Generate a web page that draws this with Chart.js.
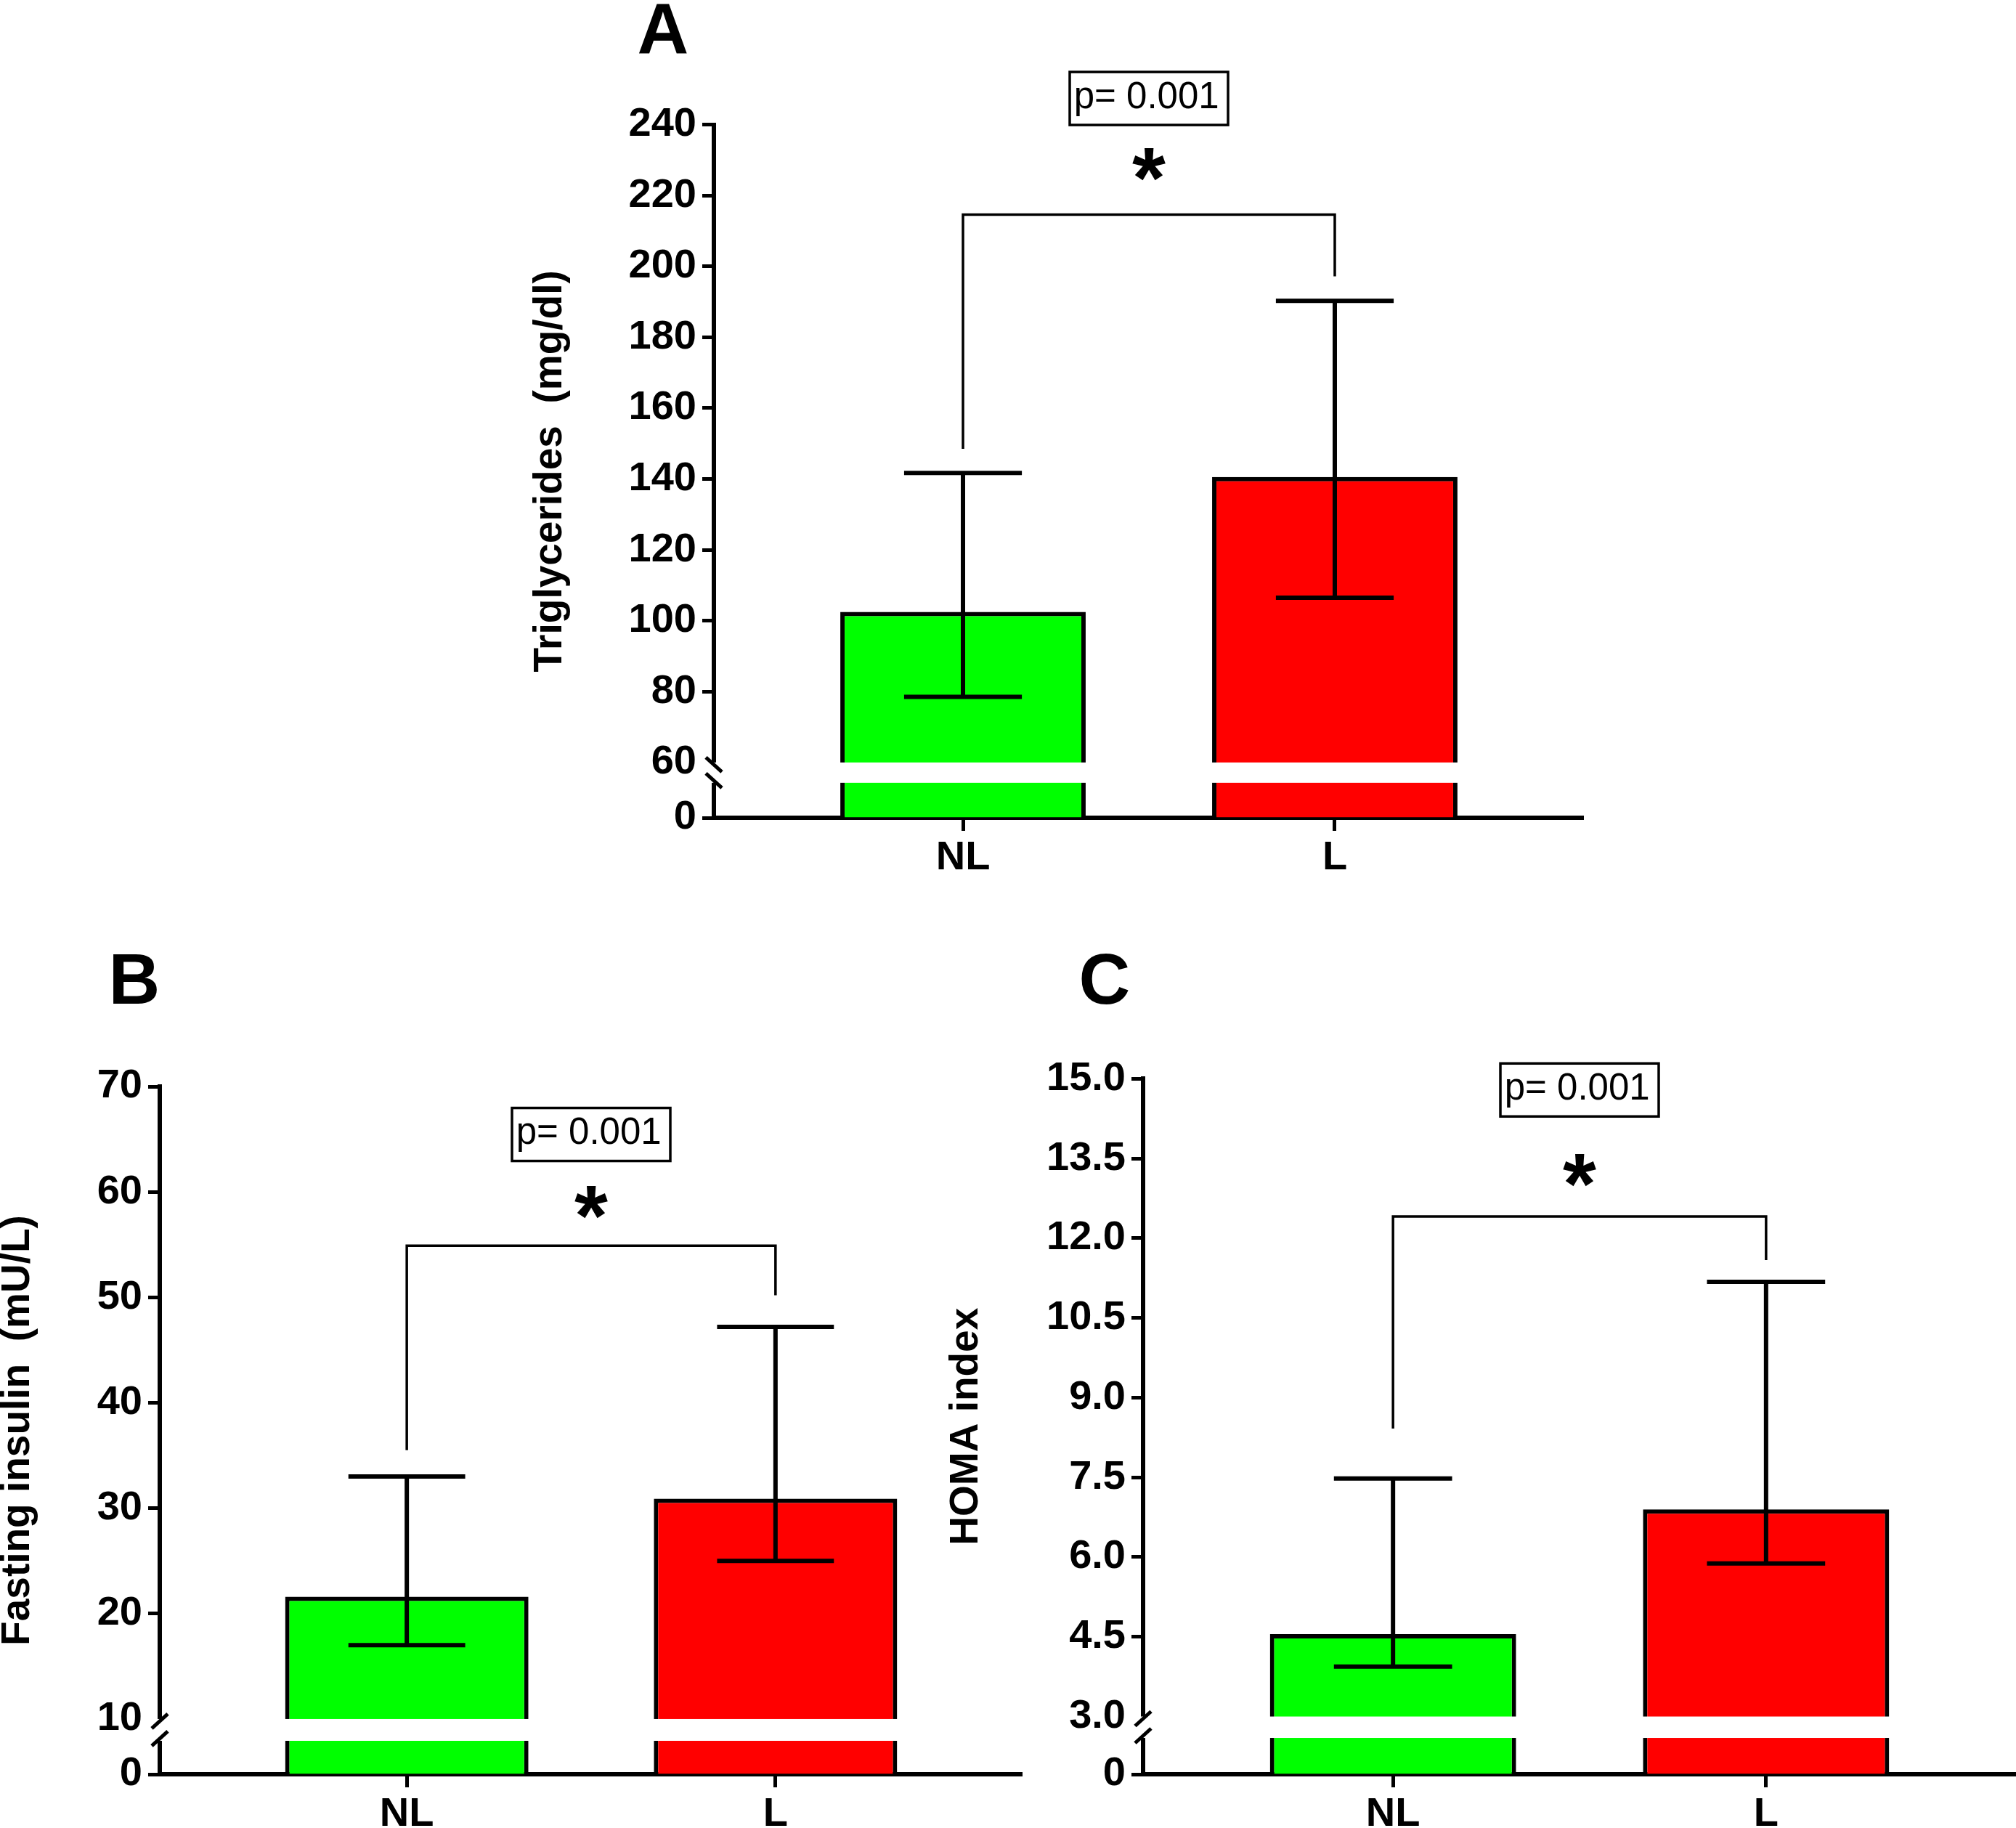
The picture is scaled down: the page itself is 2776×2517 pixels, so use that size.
<!DOCTYPE html>
<html>
<head>
<meta charset="utf-8">
<title>Triglycerides, fasting insulin and HOMA index</title>
<script src="https://cdn.jsdelivr.net/npm/chart.js@4.4.1/dist/chart.umd.min.js"></script>
<style>
  html, body { margin: 0; padding: 0; background: #fff; overflow: hidden; }
  body { width: 2776px; height: 2517px; position: relative; }
  .panel { position: absolute; }
</style>
</head>
<body>
<div class="panel" style="left:733px;top:0px;width:1448px;height:1236px"><canvas id="chartA"></canvas></div>
<div class="panel" style="left:0px;top:1250px;width:1408px;height:1303px"><canvas id="chartB"></canvas></div>
<div class="panel" style="left:1306px;top:1250px;width:1470px;height:1303px"><canvas id="chartC"></canvas></div>
<script>
// groups and colours
const groups = ['NL', 'L'];
const barColors = ['#00ff00', '#ff0000'];
const pText = 'p= 0.001';

// A - triglycerides (mg/dl)
const trigMean = [102.5, 140.6];
const trigUpper = [141.7, 190.3];
const trigLower = [78.5, 106.5];
const trigTicks = [0, 60, 80, 100, 120, 140, 160, 180, 200, 220, 240];
const trigTickLabels = ['0', '60', '80', '100', '120', '140', '160', '180', '200', '220', '240'];
const trigBracketTop = 214.6;
const trigBracketEnds = [148.5, 197.2];

// B - fasting insulin (mU/L)
const insMean = [21.6, 30.9];
const insUpper = [33.0, 47.2];
const insLower = [17.0, 25.0];
const insTicks = [0, 10, 20, 30, 40, 50, 60, 70];
const insTickLabels = ['0', '10', '20', '30', '40', '50', '60', '70'];
const insBracketTop = 54.9;
const insBracketEnds = [35.5, 50.2];

// C - HOMA index
const homaMean = [4.55, 6.9];
const homaUpper = [7.48, 11.18];
const homaLower = [3.94, 5.88];
const homaTicks = [0, 3, 4.5, 6, 7.5, 9, 10.5, 12, 13.5, 15];
const homaTickLabels = ['0', '3.0', '4.5', '6.0', '7.5', '9.0', '10.5', '12.0', '13.5', '15.0'];
const homaBracketTop = 12.41;
const homaBracketEnds = [8.42, 11.59];

const FONT = "'Liberation Sans', Arial, sans-serif";
Chart.defaults.font.family = FONT;
Chart.defaults.color = '#000';

// linear scale with a break: values below the break get a short stub at the bottom
class BrokenScale extends Chart.LinearScale {
  getPixelForValue(value) {
    const b = this.options.breakValue;
    const f = this.options.lowerPart;
    let dec;
    if (value <= b) dec = (value - this.min) / (b - this.min) * f;
    else dec = f + (value - b) / (this.max - b) * (1 - f);
    return this.getPixelForDecimal(dec);
  }
  getValueForPixel(pixel) {
    const b = this.options.breakValue;
    const f = this.options.lowerPart;
    const dec = this.getDecimalForPixel(pixel);
    if (dec <= f) return this.min + dec / f * (b - this.min);
    return b + (dec - f) / (1 - f) * (this.max - b);
  }
}
BrokenScale.id = 'broken';
BrokenScale.defaults = Chart.LinearScale.defaults;
Chart.register(BrokenScale);

// centre a string on its ink box
function inkText(ctx, text, cx, cy) {
  const m = ctx.measureText(text);
  ctx.textAlign = 'left';
  ctx.textBaseline = 'alphabetic';
  const x = cx - (m.actualBoundingBoxRight - m.actualBoundingBoxLeft) / 2 + m.actualBoundingBoxLeft;
  const y = cy + (m.actualBoundingBoxAscent - m.actualBoundingBoxDescent) / 2;
  ctx.fillText(text, x, y);
}

// error bars, axis break, bracket, p box, star and panel letter
function makeDecor(p) {
  return {
    id: 'decor',
    afterDatasetsDraw(chart) {
      const {ctx, chartArea, scales: {y}} = chart;
      const bars = chart.getDatasetMeta(0).data;
      ctx.save();

      // white gap through bars and axis
      const yb = y.getPixelForValue(y.options.breakValue);
      ctx.fillStyle = '#fff';
      ctx.fillRect(chartArea.left - 8, yb, chartArea.right - chartArea.left + 8, p.gap);

      // break marks
      ctx.strokeStyle = '#000';
      ctx.lineWidth = 5;
      ctx.lineCap = 'butt';
      const ax = chartArea.left;
      [yb + 3, yb + p.gap - 3].forEach(cy => {
        ctx.beginPath();
        ctx.moveTo(ax - 11, cy + 10 * p.slash);
        ctx.lineTo(ax + 11, cy - 10 * p.slash);
        ctx.stroke();
      });

      // error bars
      ctx.lineWidth = 6;
      bars.forEach((bar, i) => {
        const half = bar.width * 0.24;
        const yu = y.getPixelForValue(p.upper[i]);
        const yl = y.getPixelForValue(p.lower[i]);
        ctx.beginPath();
        ctx.moveTo(bar.x, yu);
        ctx.lineTo(bar.x, yl);
        ctx.moveTo(bar.x - half, yu);
        ctx.lineTo(bar.x + half, yu);
        ctx.moveTo(bar.x - half, yl);
        ctx.lineTo(bar.x + half, yl);
        ctx.stroke();
      });

      // significance bracket
      const x0 = bars[0].x, x1 = bars[1].x;
      const yt = y.getPixelForValue(p.bracketTop);
      ctx.lineWidth = 3.5;
      ctx.lineJoin = 'miter';
      ctx.beginPath();
      ctx.moveTo(x0, y.getPixelForValue(p.bracketEnds[0]));
      ctx.lineTo(x0, yt);
      ctx.lineTo(x1, yt);
      ctx.lineTo(x1, y.getPixelForValue(p.bracketEnds[1]));
      ctx.stroke();

      // p value box
      const mx = (x0 + x1) / 2;
      const by = y.getPixelForValue(p.boxAt);
      ctx.lineWidth = 3.5;
      ctx.strokeRect(mx - 109, by - 36.5, 218, 73);
      ctx.fillStyle = '#000';
      ctx.font = '51px ' + FONT;
      inkText(ctx, pText, mx, by);

      // star
      ctx.font = 'bold 118px ' + FONT;
      inkText(ctx, '*', mx, y.getPixelForValue(p.starAt));
      ctx.restore();
    },
    afterDraw(chart) {
      const ctx = chart.ctx;
      ctx.save();
      ctx.fillStyle = '#000';
      ctx.font = 'bold 98px ' + FONT;
      inkText(ctx, p.letter, p.letterX, p.letterY);
      ctx.restore();
    }
  };
}

function makePanel(id, p) {
  return new Chart(document.getElementById(id), {
    type: 'bar',
    data: {
      datasets: [{
        data: groups.map((g, i) => ({x: i, y: p.mean[i]})),
        backgroundColor: barColors,
        borderColor: '#000',
        borderWidth: 6,
        borderSkipped: 'bottom',
        barPercentage: 0.66,
        categoryPercentage: 1
      }]
    },
    options: {
      animation: false,
      responsive: true,
      maintainAspectRatio: false,
      devicePixelRatio: 1,
      events: [],
      layout: {padding: {top: p.padTop, left: 0, right: 0, bottom: 0}},
      plugins: {legend: {display: false}, tooltip: {enabled: false}},
      scales: {
        x: {
          type: 'linear',
          offset: false,
          min: -0.67,
          max: 1.67,
          afterBuildTicks: axis => { axis.ticks = groups.map((g, i) => ({value: i})); },
          afterFit: axis => { axis.height = 110; },
          ticks: {
            autoSkip: false,
            padding: 4,
            font: {size: 56, weight: 'bold'},
            callback: (v, i) => groups[i]
          },
          grid: {offset: false, drawOnChartArea: false, tickLength: 18, tickWidth: 5, tickColor: '#000'},
          border: {color: '#000', width: 6}
        },
        y: {
          type: 'broken',
          min: 0,
          max: p.ticks[p.ticks.length - 1],
          breakValue: p.ticks[1],
          lowerPart: p.lowerPart,
          afterBuildTicks: axis => { axis.ticks = p.ticks.map(v => ({value: v})); },
          afterFit: axis => { axis.width = p.axisWidth; },
          ticks: {
            autoSkip: false,
            padding: 8,
            font: {size: 56, weight: 'bold'},
            callback: (v, i) => p.tickLabels[i]
          },
          grid: {
            drawOnChartArea: false,
            tickLength: 16,
            tickWidth: 5,
            tickColor: c => (c.tick && c.tick.value === p.ticks[1]) ? 'rgba(0,0,0,0)' : '#000'
          },
          border: {color: '#000', width: 6},
          title: {
            display: true,
            text: p.title,
            font: {size: 55, weight: 'bold', lineHeight: 0.9},
            padding: {top: 0, bottom: 0}
          }
        }
      }
    },
    plugins: [makeDecor(p)]
  });
}

makePanel('chartA', {
  mean: trigMean, upper: trigUpper, lower: trigLower,
  ticks: trigTicks, tickLabels: trigTickLabels,
  bracketTop: trigBracketTop, bracketEnds: trigBracketEnds,
  title: 'Triglycerides  (mg/dl)',
  letter: 'A', letterX: 182, letterY: 39,
  padTop: 171.7, axisWidth: 250, lowerPart: 0.0798, gap: 28, slash: -1,
  boxAt: 247.4, starAt: 228.7
});

makePanel('chartB', {
  mean: insMean, upper: insUpper, lower: insLower,
  ticks: insTicks, tickLabels: insTickLabels,
  bracketTop: insBracketTop, bracketEnds: insBracketEnds,
  title: 'Fasting insulin  (mU/L)',
  letter: 'B', letterX: 192, letterY: 98,
  padTop: 246, axisWidth: 220, lowerPart: 0.0803, gap: 30, slash: 1,
  boxAt: 65.45, starAt: 59.03
});

makePanel('chartC', {
  mean: homaMean, upper: homaUpper, lower: homaLower,
  ticks: homaTicks, tickLabels: homaTickLabels,
  bracketTop: homaBracketTop, bracketEnds: homaBracketEnds,
  title: 'HOMA index',
  letter: 'C', letterX: 220, letterY: 98,
  padTop: 235.4, axisWidth: 268, lowerPart: 0.083, gap: 29.5, slash: 1,
  boxAt: 14.79, starAt: 13.28
});
</script>
</body>
</html>
